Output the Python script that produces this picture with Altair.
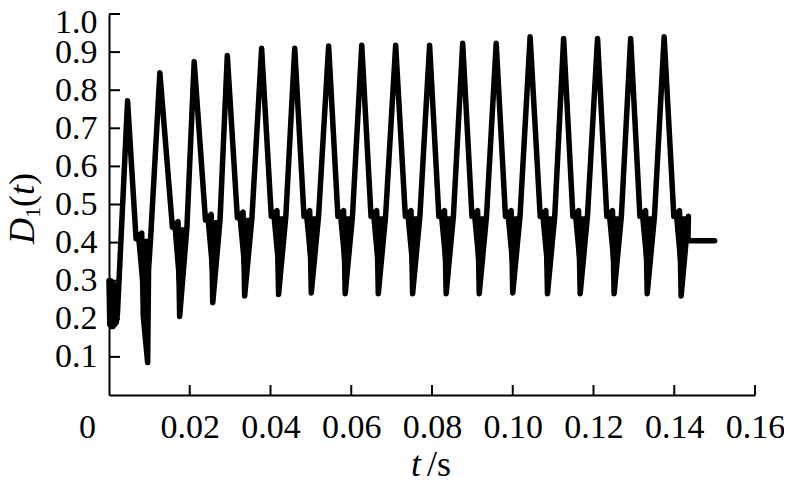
import altair as alt
import pandas as pd

# ---- values ----
# start-up segment (t in s, D1)
start_t = [0.0000, 0.0002, 0.0004, 0.0006, 0.0008, 0.0010, 0.0012, 0.0014, 0.0016, 0.0018, 0.0021]
start_v = [0.300, 0.185, 0.300, 0.180, 0.295, 0.180, 0.290, 0.185, 0.285, 0.190, 0.215]

# peaks of each cycle
peak_t = [0.0046, 0.0126, 0.0211, 0.0293, 0.0378, 0.0460, 0.0544, 0.0626, 0.0710,
          0.0794, 0.0876, 0.0959, 0.1043, 0.1126, 0.1210, 0.1292, 0.1375]
peak_v = [0.772, 0.846, 0.875, 0.891, 0.910, 0.910, 0.916, 0.918, 0.918,
          0.918, 0.923, 0.923, 0.940, 0.936, 0.936, 0.936, 0.940]

# troughs of each cycle: centre time, bottom value, top of the rippled blob
trough_t = [0.0085, 0.0175, 0.0257, 0.0336, 0.0420, 0.0501, 0.0585, 0.0667, 0.0752,
            0.0835, 0.0917, 0.1000, 0.1086, 0.1167, 0.1251, 0.1333, 0.1417]
trough_lo = [0.206, 0.206, 0.242, 0.260, 0.264, 0.268, 0.266, 0.266, 0.266,
             0.266, 0.266, 0.268, 0.266, 0.266, 0.266, 0.266, 0.260]
trough_hi = [0.425, 0.455, 0.474, 0.480, 0.484, 0.484, 0.484, 0.484, 0.484,
             0.484, 0.484, 0.484, 0.484, 0.484, 0.484, 0.484, 0.484]

# downward spike in the first trough
spike_t = [0.00957, 0.00980]
spike_v = [0.085, 0.330]

# final constant part
end_t = [0.1434, 0.1500]
end_v = [0.405, 0.405]

x_ticks = [0.0, 0.02, 0.04, 0.06, 0.08, 0.10, 0.12, 0.14, 0.16]
y_ticks = [0.1, 0.2, 0.3, 0.4, 0.5, 0.6, 0.7, 0.8, 0.9, 1.0]

# drawing shape of a trough blob (half width in s, notch depth)
BW = 0.0018
NOTCH = 0.015

# ---- build the polyline and the trough blobs ----
pts = []
blobs = []
for t, v in zip(start_t, start_v):
    pts.append((t, v))
for k in range(len(peak_t)):
    pts.append((peak_t[k], peak_v[k]))
    tc, lo, hi = trough_t[k], trough_lo[k], trough_hi[k]
    he = hi - NOTCH
    pts.append((tc - BW, he))
    pts.append((tc - 0.0004, hi))
    pts.append((tc, lo))
    if k == 0:
        for st, sv in zip(spike_t, spike_v):
            pts.append((st, sv))
    pts.append((tc + BW, he))
    blobs += [(k, tc - BW, he, he), (k, tc, lo, he), (k, tc + BW, he, he)]
for t, v in zip(end_t, end_v):
    pts.append((t, v))

df = pd.DataFrame({"t": [p[0] for p in pts], "D": [p[1] for p in pts],
                   "i": list(range(len(pts)))})
bdf = pd.DataFrame(blobs, columns=["k", "t", "D", "D2"])

W, H = 646, 381
FONT = "'Liberation Serif', Tinos, 'Nimbus Roman', 'DejaVu Serif', serif"

xs = alt.Scale(domain=[0, 0.16], nice=False)
ys = alt.Scale(domain=[0, 1.0], nice=False)

x_axis = alt.Axis(
    values=x_ticks, labelExpr="datum.value == 0 ? '0' : format(datum.value, '.2f')",
    ticks=False, tickSize=0, grid=False, title=None,
    domainColor="black", domainWidth=2,
    labelFont=FONT, labelFontSize=34, labelColor="black", labelPadding=15,
    labelFlush=False, labelOverlap=False,
    labelOffset={"condition": {"test": "datum.value == 0", "value": -22}, "value": 0},
)
y_axis = alt.Axis(
    values=y_ticks, format=".1f",
    ticks=False, tickSize=0, grid=False, title=None,
    domainColor="black", domainWidth=2,
    labelFont=FONT, labelFontSize=34, labelColor="black", labelPadding=12,
    labelOverlap=False,
    labelOffset={"condition": {"test": "datum.value >= 0.99", "value": 8}, "value": 0},
)

line = alt.Chart(df).mark_line(
    color="black", strokeWidth=5.5, strokeJoin="round", strokeCap="round"
).encode(
    x=alt.X("t:Q", scale=xs, axis=x_axis),
    y=alt.Y("D:Q", scale=ys, axis=y_axis),
    order="i:Q",
)

blob = alt.Chart(bdf).mark_area(color="black", opacity=1).encode(
    x=alt.X("t:Q", scale=xs, axis=x_axis),
    y=alt.Y("D:Q", scale=ys, axis=y_axis),
    y2="D2:Q",
    detail="k:N",
)

xt = alt.Chart(pd.DataFrame({"t": x_ticks[1:]})).mark_rule(color="black", strokeWidth=2).encode(
    x=alt.X("t:Q", scale=xs, axis=x_axis),
    y=alt.value(H), y2=alt.value(H - 10),
)
yt = alt.Chart(pd.DataFrame({"D": y_ticks})).mark_rule(color="black", strokeWidth=2).encode(
    y=alt.Y("D:Q", scale=ys, axis=y_axis),
    x=alt.value(0), x2=alt.value(11),
)

one = alt.Data(values=[{"a": 1}])


def txt(text, x, y, size, italic=False, angle=0, align="left"):
    kw = dict(text=text, font=FONT, fontSize=size, color="black", align=align,
              baseline="alphabetic", angle=angle)
    if italic:
        kw["fontStyle"] = "italic"
    return alt.Chart(one).mark_text(**kw).encode(x=alt.value(x), y=alt.value(y))


titles = [
    txt("D", -75, 230, 36, italic=True, angle=270),
    txt("1", -69, 204, 22, angle=270),
    txt("(", -75, 193, 36, angle=270),
    txt("t", -75, 181, 36, italic=True, angle=270),
    txt(")", -75, 171, 36, angle=270),
    txt("t", 312, 462, 36, italic=True, align="right"),
    txt("/s", 318, 462, 36),
]

chart = alt.layer(line, blob, xt, yt, *titles).properties(
    width=W, height=H,
    autosize=alt.AutoSizeParams(type="none"),
    padding={"left": 101, "top": 6, "right": 29, "bottom": 86},
    background="white",
).configure_view(strokeWidth=0)

chart.save("out.html", embed_options={"renderer": "svg", "actions": False})
